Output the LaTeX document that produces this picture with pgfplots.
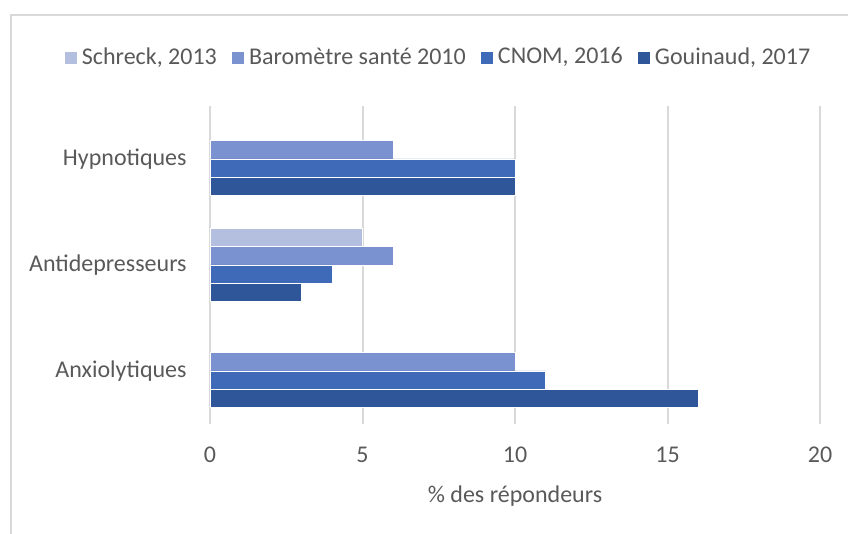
\documentclass[border=0pt]{standalone}
\usepackage{fontspec}
\setmainfont{Carlito}
\usepackage{pgfplots}
\pgfplotsset{compat=1.18}
\definecolor{txt}{HTML}{595959}
\definecolor{grd}{HTML}{D9D9D9}
\definecolor{cA}{HTML}{B4BEDF}
\definecolor{cB}{HTML}{7A92CF}
\definecolor{cC}{HTML}{3F6AB8}
\definecolor{cD}{HTML}{30569A}
\begin{document}
\fontsize{12bp}{14.4bp}\selectfont
\begin{tikzpicture}
\useasboundingbox (0,0) rectangle (424bp,267bp);
\draw[grd, line width=1bp] (5.25bp,-10bp) -- (5.25bp,259.5bp) -- (440bp,259.5bp);
\begin{axis}[
  at={(105bp,55bp)}, anchor=south west,
  width=305bp, height=159bp, scale only axis,
  xbar, bar width=0.1726,
  xmin=0, xmax=20, ymin=-0.5, ymax=2.5,
  xtick={0,5,10,15,20},
  ytick={0,1,2}, yticklabels={Anxiolytiques,Antidepresseurs,Hypnotiques},
  axis line style={draw=none},
  major tick length=0pt,
  xmajorgrids, grid style={grd, line width=1bp},
  /pgf/number format/assume math mode=true,
  tick label style={font=\fontsize{12bp}{14.4bp}\selectfont, text=txt, inner sep=0pt},
  xticklabel style={anchor=base, yshift=-19.5bp},
  yticklabel style={anchor=east, xshift=-11.5bp},
  xlabel={\% des répondeurs},
  xlabel style={at={(axis description cs:0.5,0)}, anchor=base, yshift=-39.5bp, inner sep=0pt, font=\fontsize{12bp}{14.4bp}\selectfont, text=txt},
  legend columns=4,
  legend style={at={(-0.2404,1.152)}, anchor=west, draw=none, fill=none, inner sep=0pt,
    font=\fontsize{12bp}{14.4bp}\selectfont, text=txt,
    nodes={inner sep=0pt},
    /tikz/every odd column/.append style={column sep=2.2bp},
    /tikz/every even column/.append style={column sep=7bp}},
  legend image code/.code={\fill[#1] (0bp,-3.25bp) rectangle (6.5bp,3.25bp);},
]
\addplot[fill=cA, draw=white, line width=0.4bp, bar shift=0.259] coordinates {(5,1)};
\addplot[fill=cB, draw=white, line width=0.4bp, bar shift=0.0863] coordinates {(10,0) (6,1) (6,2)};
\addplot[fill=cC, draw=white, line width=0.4bp, bar shift=-0.0863] coordinates {(11,0) (4,1) (10,2)};
\addplot[fill=cD, draw=white, line width=0.4bp, bar shift=-0.259] coordinates {(16,0) (3,1) (10,2)};
\legend{{Schreck, 2013},{Baromètre santé 2010},{CNOM, 2016},{Gouinaud, 2017}}
\end{axis}
\end{tikzpicture}
\end{document}
